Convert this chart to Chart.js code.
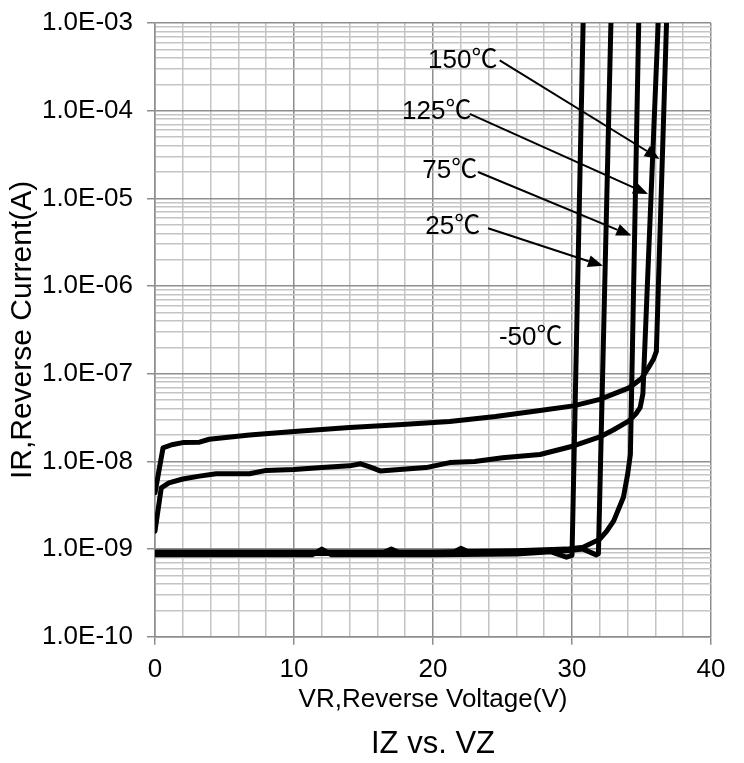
<!DOCTYPE html>
<html>
<head>
<meta charset="utf-8">
<script src="https://cdn.jsdelivr.net/npm/chart.js@4.4.1/dist/chart.umd.min.js"></script>
<style>
  html, body { margin: 0; padding: 0; background: #ffffff; }
  #wrap { width: 744px; height: 763px; position: relative; }
</style>
</head>
<body>
<div id="wrap"><canvas id="c"></canvas></div>
<script>
// ---------------- data ----------------
const seriesNames = ['-50℃', '25℃', '75℃', '125℃', '150℃'];

const vrM50 = [0, 5, 11.3, 12, 12.7, 20, 26, 28.5, 29.6, 30.0, 30.8];
const irM50 = [8.6e-10, 8.6e-10, 8.6e-10, 1.0e-9, 8.6e-10, 8.6e-10, 8.8e-10, 9.3e-10, 8.1e-10, 8.5e-10, 1e-3];

const vr25 = [0, 10, 16.3, 17, 17.7, 21.3, 22, 22.7, 27, 29.6, 30.8, 31.75, 31.9, 32.8];
const ir25 = [8.9e-10, 8.9e-10, 8.9e-10, 1.0e-9, 8.9e-10, 8.9e-10, 1.02e-9, 9.1e-10, 9.4e-10, 9.6e-10, 1.0e-9, 8.6e-10, 8.9e-10, 1e-3];

const vr75 = [0, 10, 20, 26, 29.6, 30.8, 32.0, 32.5, 33.0, 33.7, 34.0, 34.2, 34.8];
const ir75 = [9.3e-10, 9.3e-10, 9.3e-10, 9.6e-10, 1.0e-9, 1.05e-9, 1.3e-9, 1.6e-9, 2.1e-9, 3.9e-9, 7.1e-9, 1.2e-8, 1e-3];

const vr125 = [0, 0.45, 1, 2, 3.2, 4.4, 6.8, 8, 10, 12, 14, 14.8, 15.5, 16.2, 17.6, 19.5, 21.2, 23, 25, 27.7, 30.1, 32, 33, 34.1, 34.6, 34.9, 35.1, 36.2];
const ir125 = [1.6e-9, 5.0e-9, 5.7e-9, 6.3e-9, 6.8e-9, 7.25e-9, 7.25e-9, 7.9e-9, 8.1e-9, 8.5e-9, 8.9e-9, 9.4e-9, 8.6e-9, 7.8e-9, 8.1e-9, 8.5e-9, 9.7e-9, 1.0e-8, 1.1e-8, 1.2e-8, 1.5e-8, 1.9e-8, 2.3e-8, 2.9e-8, 3.5e-8, 4.1e-8, 5.9e-8, 1e-3];

const vr150 = [0, 0.58, 1.2, 2, 3.2, 3.9, 6.8, 10, 14, 17.5, 21.2, 24.5, 27.7, 30.1, 32, 34.1, 35, 35.5, 35.85, 36.07, 36.8];
const ir150 = [4.4e-9, 1.43e-8, 1.55e-8, 1.64e-8, 1.66e-8, 1.79e-8, 2.0e-8, 2.19e-8, 2.43e-8, 2.62e-8, 2.85e-8, 3.25e-8, 3.8e-8, 4.3e-8, 5.1e-8, 6.9e-8, 8.8e-8, 1.17e-7, 1.45e-7, 1.8e-7, 1e-3];

// axis ticks
const yDecadeExps = [-10, -9, -8, -7, -6, -5, -4, -3];
const yDecadeLabels = ['1.0E-10', '1.0E-09', '1.0E-08', '1.0E-07', '1.0E-06', '1.0E-05', '1.0E-04', '1.0E-03'];
const yMinorMultipliers = [2, 3, 4, 5, 6, 7, 8, 9];
const xTickLabels = ['0', '10', '20', '30', '40'];

// annotations (label text, label position, arrow start, arrow tip) in data units
const noteText = ['150℃', '125℃', '75℃', '25℃', '-50℃'];
const noteVR = [22.14, 20.27, 21.2, 21.42, 27.03];
const noteIR = [3.75e-4, 9.8e-5, 2.08e-5, 4.7e-6, 2.57e-7];
const arrowFromVR = [24.8, 22.64, 23.24, 23.96, null];
const arrowFromIR = [3.75e-4, 9.2e-5, 2.0e-5, 4.57e-6, null];
const arrowToVR = [36.3, 35.47, 34.27, 32.23, null];
const arrowToIR = [2.82e-5, 1.12e-5, 3.76e-6, 1.7e-6, null];

// ---------------- build ----------------
const pairs = (xs, ys) => xs.map((x, i) => ({ x: x, y: ys[i] }));
const allSeries = [[vrM50, irM50], [vr25, ir25], [vr75, ir75], [vr125, ir125], [vr150, ir150]];

const yTickValues = [];
yDecadeExps.forEach((e, i) => {
  yTickValues.push(Math.pow(10, e));
  if (i < yDecadeExps.length - 1) yMinorMultipliers.forEach(m => yTickValues.push(m * Math.pow(10, e)));
});
const isDecade = v => Math.abs(Math.log10(v) - Math.round(Math.log10(v))) < 1e-6;
const decadeLabel = v => {
  const idx = yDecadeExps.indexOf(Math.round(Math.log10(v)));
  return idx >= 0 ? yDecadeLabels[idx] : '';
};

const FONT = "'Liberation Sans', Arial, 'Noto Sans CJK JP', sans-serif";
const MAJOR = '#8e8e8e';
const MINOR = '#c4c4c4';

const annotPlugin = {
  id: 'annot',
  afterDatasetsDraw(chart) {
    const ctx = chart.ctx;
    const xs = chart.scales.x, ys = chart.scales.y;
    ctx.save();
    ctx.fillStyle = '#000';
    ctx.strokeStyle = '#000';
    ctx.font = "26px " + FONT;
    ctx.textAlign = 'center';
    ctx.textBaseline = 'middle';
    noteText.forEach((t, i) => {
      ctx.fillText(t, xs.getPixelForValue(noteVR[i]), ys.getPixelForValue(noteIR[i]));
      if (arrowFromVR[i] === null) return;
      const x1 = xs.getPixelForValue(arrowFromVR[i]), y1 = ys.getPixelForValue(arrowFromIR[i]);
      const x2 = xs.getPixelForValue(arrowToVR[i]), y2 = ys.getPixelForValue(arrowToIR[i]);
      const ang = Math.atan2(y2 - y1, x2 - x1);
      const L = 15, W = 6;
      const bx = x2 - L * Math.cos(ang), by = y2 - L * Math.sin(ang);
      ctx.lineWidth = 2;
      ctx.beginPath();
      ctx.moveTo(x1, y1);
      ctx.lineTo(bx, by);
      ctx.stroke();
      ctx.beginPath();
      ctx.moveTo(x2, y2);
      ctx.lineTo(bx + W * Math.sin(ang), by - W * Math.cos(ang));
      ctx.lineTo(bx - W * Math.sin(ang), by + W * Math.cos(ang));
      ctx.closePath();
      ctx.fill();
    });
    ctx.restore();
  }
};

new Chart(document.getElementById('c'), {
  type: 'scatter',
  data: {
    datasets: allSeries.map((s, i) => ({
      label: seriesNames[i],
      data: pairs(s[0], s[1]),
      showLine: true,
      borderColor: '#000000',
      backgroundColor: '#000000',
      borderWidth: 5,
      pointRadius: 0,
      pointHoverRadius: 0,
      tension: 0,
      borderJoinStyle: 'round',
      borderCapStyle: 'round'
    }))
  },
  options: {
    responsive: true,
    maintainAspectRatio: false,
    animation: false,
    events: [],
    devicePixelRatio: 1,
    layout: { padding: { top: 23, right: 33, bottom: 0, left: 0 } },
    plugins: {
      legend: { display: false },
      tooltip: { enabled: false },
      title: {
        display: true,
        text: 'IZ vs. VZ',
        position: 'bottom',
        fullSize: false,
        color: '#000',
        font: { family: FONT, size: 31, weight: 'normal' },
        padding: { top: 0, bottom: 0 }
      }
    },
    scales: {
      x: {
        type: 'linear',
        min: 0,
        max: 40,
        afterFit: s => { s.height = 89; s.paddingLeft = 0; s.paddingRight = 0; },
        ticks: {
          stepSize: 2,
          autoSkip: false,
          maxRotation: 0,
          padding: 9,
          color: '#000',
          font: { family: FONT, size: 26 },
          callback: v => (v % 10 === 0 ? xTickLabels[v / 10] : '')
        },
        grid: {
          color: c => (c.tick && c.tick.value % 10 === 0 ? MAJOR : MINOR),
          lineWidth: 1.5,
          tickColor: c => (c.tick && c.tick.value % 10 === 0 ? MAJOR : 'rgba(0,0,0,0)'),
          tickLength: 8
        },
        border: { color: MAJOR, width: 1.5 },
        title: {
          display: true,
          text: 'VR,Reverse Voltage(V)',
          color: '#000',
          font: { family: FONT, size: 26 },
          padding: { top: 0, bottom: 10 }
        }
      },
      y: {
        type: 'logarithmic',
        min: 1e-10,
        max: 1e-3,
        afterFit: s => { s.width = 155; s.paddingTop = 0; s.paddingBottom = 0; },
        afterBuildTicks: s => { s.ticks = yTickValues.map(v => ({ value: v, major: isDecade(v) })); },
        ticks: {
          autoSkip: false,
          padding: 14,
          color: '#000',
          font: { family: FONT, size: 26 },
          callback: v => (isDecade(v) ? decadeLabel(v) : '')
        },
        grid: {
          color: c => (c.tick && isDecade(c.tick.value) ? MAJOR : MINOR),
          lineWidth: 1.5,
          tickColor: c => (c.tick && isDecade(c.tick.value) ? MAJOR : 'rgba(0,0,0,0)'),
          tickLength: 8
        },
        border: { color: MAJOR, width: 1.5 },
        title: {
          display: true,
          text: 'IR,Reverse Current(A)',
          color: '#000',
          font: { family: FONT, size: 30 },
          padding: { top: 5, bottom: 0 }
        }
      }
    }
  },
  plugins: [annotPlugin]
});
</script>
</body>
</html>
